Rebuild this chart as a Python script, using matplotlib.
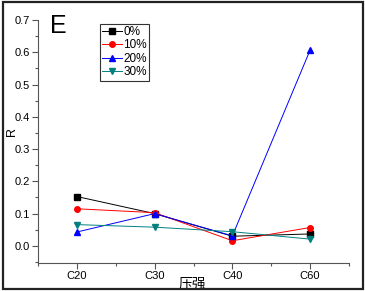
import numpy as np
import matplotlib
matplotlib.use('Agg')
import matplotlib.pyplot as plt
from matplotlib.patches import Rectangle

categories = ['C20', 'C30', 'C40', 'C60']
names = ['0%', '10%', '20%', '30%']
r0 = [0.153, 0.100, 0.030, 0.037]
r10 = [0.115, 0.103, 0.016, 0.057]
r20 = [0.043, 0.100, 0.031, 0.607]
r30 = [0.066, 0.058, 0.044, 0.021]

color = ['#000000', '#FF0000', '#0000FF', '#008080']
marker = ['s', 'o', '^', 'v']

matplotlib.rcParams['font.family'] = ['Liberation Sans', 'Noto Sans CJK SC', 'DejaVu Sans']
plt.rcParams.update({'font.size': 8})

fig = plt.figure(figsize=(3.65, 2.91), dpi=100)
ax = fig.add_axes([38/365, 28/291, 311/365, 243/291])

x = np.arange(len(categories))
for i, data in enumerate([r0, r10, r20, r30]):
	ax.plot(x, data, color=color[i], marker=marker[i], markersize=4,
		linewidth=0.7, label=names[i])

ax.set_xlim(-0.5, 3.5)
ax.set_ylim(-0.053, 0.7)
ax.set_xticks(x)
ax.set_xticklabels(categories)
ax.set_xticks(np.arange(-0.5, 3.6, 1.0), minor=True)
ax.set_yticks(np.arange(0, 0.71, 0.1))
ax.set_yticklabels(['{:.1f}'.format(v) for v in np.arange(0, 0.71, 0.1)])
ax.set_yticks(np.arange(-0.05, 0.7, 0.1), minor=True)
ax.spines['top'].set_visible(False)
ax.spines['right'].set_visible(False)
ax.spines['left'].set_color('#555555')
ax.spines['bottom'].set_color('#555555')
ax.tick_params('both', which='major', length=4, width=0.8, pad=2, color='#555555')
ax.tick_params('both', which='minor', length=2.5, width=0.8, color='#555555')

# axis labels placed by hand, like the reference
ax.text(-0.085, 0.54, 'R', transform=ax.transAxes, fontsize=9, rotation=90,
	ha='center', va='center')
ax.text(0.495, -0.082, '压强', transform=ax.transAxes, fontsize=10,
	ha='center', va='center')
ax.text(0.04, 1.025, 'E', transform=ax.transAxes, fontsize=18, va='top', ha='left')

leg = ax.legend(loc='upper left', bbox_to_anchor=(0.199, 0.985), fancybox=False,
	edgecolor='#333333', framealpha=1, fontsize=8.5, handlelength=1.7,
	handletextpad=0.1, labelspacing=0.12, borderpad=0.2, borderaxespad=0)
leg.get_frame().set_linewidth(0.8)

fig.patches.append(Rectangle((2.5/365, 2.5/291), 360/365, 287/291, transform=fig.transFigure,
	fill=False, edgecolor='#222222', linewidth=1.6))

fig.savefig('out.png', dpi=100)
